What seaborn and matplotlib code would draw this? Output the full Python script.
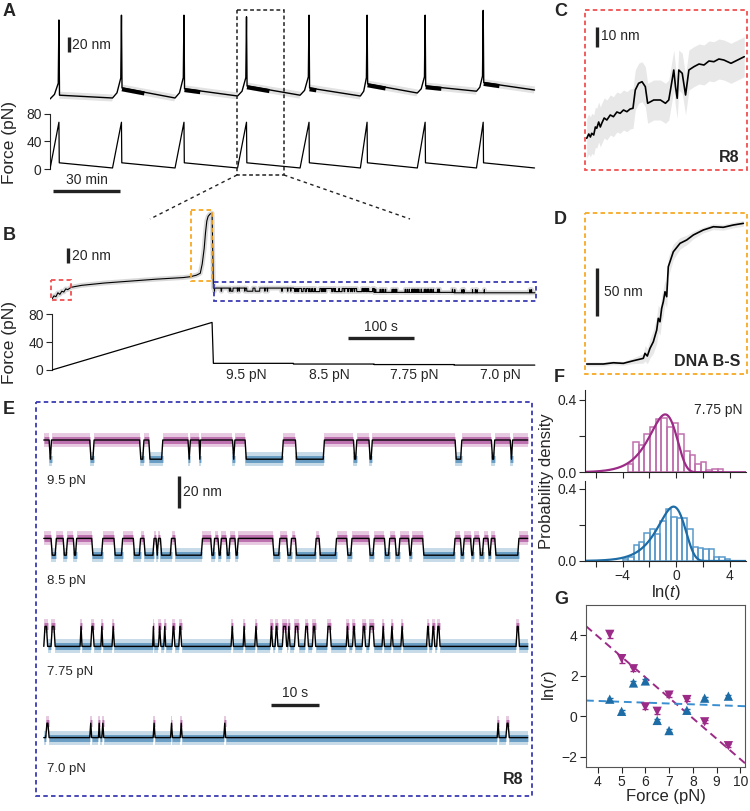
import numpy as np
import pandas as pd
import matplotlib
matplotlib.use('Agg')
import matplotlib.pyplot as plt
import seaborn as sns
from matplotlib.patches import Rectangle
from matplotlib.collections import LineCollection

sns.set_style('ticks')
plt.rcParams['font.family'] = ['Liberation Sans', 'DejaVu Sans']
plt.rcParams['mathtext.fontset'] = 'custom'
plt.rcParams['mathtext.rm'] = 'Liberation Sans'
plt.rcParams['mathtext.it'] = 'Liberation Sans:italic'
plt.rcParams['xtick.labelsize'] = 10
plt.rcParams['ytick.labelsize'] = 10

MAG = '#9c2a87'
BLU = '#1d6ca6'

# ---------------- data ----------------
# A: pulling cycles (time in min, force in pN, extension in nm)
A_ramp_start = [0, 28, 56, 84, 112, 139, 164.5, 191]
A_peak = [4, 32, 60, 88, 116, 142, 168, 194]
A_end = 217
A_force_start = [0, 1.5, 1.5, 1.5, 1.5, 1.5, 1.5, 1.5]
A_force_peak = 68
A_force_after = 9
A_force_end = 1.5
A_ext_start = [1.25, 2.5, 2.5, 5, 6, 5, 8.75, 11]
A_ext_ramp_mid = [7, 9, 9, 11, 12, 11, 14, 16]
A_ext_prespike = [21, 27.5, 28, 28, 29, 28, 29, 30]
A_ext_top = [100, 106, 106, 104, 106, 106, 106, 112]
A_ext_after = [6, 15, 14, 17.5, 15, 20, 17.5, 21.7]
A_ext_final = 12.5
A_hop_len = [0, 10, 7, 10, 3, 8, 7, 7]

# B: one cycle (time in s)
B_pre_t = [0, 3, 6, 9, 12, 15, 18, 21, 24, 29, 45, 80, 120, 160, 200, 211, 220, 226, 229, 232,
           234, 236, 238, 241, 244]
B_pre_nm = [0, 4, 3, 8, 6, 10, 9, 13, 12, 15, 17.5, 20.5, 23, 25.5, 27.5, 28.6, 30.5, 33, 45, 65,
            85, 100, 106, 109, 110]
B_ramp_end = 244
B_force_peak = 68
B_step_t = [246, 368, 491, 613, 736]
B_forces = [9.5, 8.5, 7.75, 7.0]
B_high = [14, 13.5, 12.5, 12]
B_low = [10, 9.5, 8.5, 8]

# C: R8 hopping at the start of the ramp
C_t = [0.13, 0.5, 0.8, 1.04, 1.4, 1.7, 1.95, 2.3, 2.6, 2.86, 3.3, 3.78, 4.4, 4.98, 5.6, 6.2, 6.8,
       7.42, 8.0, 8.52, 8.94, 9.54, 10.16, 10.76, 11.18, 12.28, 13.5, 14.41, 15.01, 15.32, 15.92,
       16.23, 16.54, 16.83, 17.45, 18.06, 18.66, 19.57, 20.5, 21.4, 22.3, 23.2, 24.1, 25.0, 26.3,
       27.5, 28.7]
C_nm = [0.85, 3, 1.5, 3.35, 2.5, 6.5, 5.85, 9, 6.5, 8.35, 11, 10, 12.5, 11.65, 14, 13.35, 15,
        14.15, 15.5, 15.85, 25, 28.35, 29.15, 26.65, 18.35, 20, 20, 18.35, 20, 25, 35,
        26.65, 20.85, 35, 33.35, 22.5, 35, 36.65, 38, 37.5, 39.5, 39.15, 40.5, 40, 38.35,
        40, 41.65]
C_spread = 10

# D: DNA B-S transition
D_t = [0.14, 3.48, 5.49, 7.5, 9.52, 11.53, 11.87, 12.34, 12.88, 13.55, 14.23, 14.55, 14.89, 15.23,
       15.56, 15.9, 16.24, 16.56, 16.9, 17.57, 18.92, 20.27, 21.6, 23.61, 25.62, 27.63, 29.65, 31.66]
D_nm = [2.1, 2.1, 3.4, 2.8, 5.5, 8.0, 13.2, 10.4, 18.4, 25.3, 37.5, 49.7, 46.1, 60.1, 67.0, 77.4,
        72.2, 103.4, 108.6, 119.0, 127.8, 131.3, 136.5, 141.7, 145.1, 144.5, 146.9, 148.6]
D_spread = [2, 2, 2, 2, 3, 5, 8, 8, 10, 12, 14, 14, 14, 14, 14, 12, 12, 10, 10, 8, 6, 5, 4, 3,
            3, 3, 3, 3]

# E: constant-force traces, 100 s each; intervals spent in the other state
E_labels = ['9.5 pN', '8.5 pN', '7.75 pN', '7.0 pN']
E_base_high = [True, True, False, False]
E_low = [210.5, 150.5, 93.5, 36.5]
E_step = [12, 10.5, 12.5, 9]
E_95 = [(1.1, 1.6), (9.5, 10.4), (19.8, 20.7), (21.7, 24.6), (29.8, 30.3), (32.1, 32.4),
        (39.0, 39.5), (41.6, 49.5), (52.0, 58.0), (64.0, 64.7), (67.2, 67.9), (85.0, 86.4),
        (92.5, 93.2), (96.4, 96.9)]
E_85 = [(1.5, 2.6), (4.0, 4.9), (6.1, 6.8), (9.9, 12.2), (14.5, 16.3), (18.5, 20.0), (20.7, 22.8),
        (23.2, 23.7), (24.1, 26.4), (27.1, 32.8), (34.5, 35.3), (36.0, 36.7), (37.7, 38.5),
        (39.5, 40.2), (47.3, 48.8), (50.2, 51.2), (52.0, 56.3), (56.9, 60.5), (62.6, 63.7),
        (67.2, 68.3), (70.4, 71.5), (72.6, 73.6), (75.4, 76.1), (78.3, 85.0), (86.1, 86.9),
        (88.2, 88.9), (90.0, 90.9), (91.8, 92.5), (93.2, 98.2)]
E_775 = [(0.0, 0.8), (1.5, 2.35), (7.5, 7.9), (9.7, 10.4), (11.8, 12.2), (14.1, 14.6), (22.5, 22.8),
         (23.7, 24.2), (24.8, 25.2), (26.5, 27.1), (27.9, 28.5), (38.7, 39.2), (41.2, 41.6),
         (43.6, 44.1), (46.8, 47.3), (47.8, 48.4), (49.3, 50.2), (50.4, 50.9), (51.8, 52.7),
         (53.9, 54.7), (55.5, 56.2), (58.5, 59.4), (62.5, 63.0), (63.8, 64.4), (65.8, 66.5),
         (67.2, 68.3), (69.9, 70.4), (71.7, 72.2), (73.8, 74.3), (79.1, 79.7), (80.2, 80.8),
         (81.2, 81.9), (97.6, 98.3)]
E_70 = [(0.4, 1.1), (9.5, 9.9), (11.3, 11.6), (12.0, 12.4), (22.6, 23.0), (26.2, 26.6),
        (28.2, 28.6), (37.2, 37.6), (93.7, 94.1), (95.5, 96.2)]
E_events = [E_95, E_85, E_775, E_70]

# F: dwell-time histograms at 7.75 pN
F_top_start, F_top_width = -3.63, 0.42
F_top = [0.047, 0.168, 0.153, 0.213, 0.25, 0.293, 0.30, 0.25, 0.27, 0.21, 0.116, 0.097, 0.047,
         0.056, 0.013, 0.017, 0.017]
F_bot_start, F_bot_width = -3.98, 0.40
F_bot = [0.009, 0.02, 0.087, 0.107, 0.157, 0.18, 0.148, 0.222, 0.29, 0.246, 0.237, 0.24, 0.176,
         0.078, 0.074, 0.068, 0.068, 0.022, 0.022, 0.009]
F_top_fit = (0.87, -0.82)   # amplitude, ln(tau)
F_bot_fit = (0.82, -0.20)

# G: rates vs force
G_force = [4.5, 5, 5.5, 6, 6.5, 7, 7.75, 8.5, 9.5]
G_unfold = [4.05, 2.85, 2.35, 0.47, 0.25, 1.05, 0.83, -0.27, -1.45]
G_unfold_err = [0.18, 0.2, 0.1, 0.12, 0.12, 0.1, 0.08, 0.08, 0.08]
G_fold = [0.85, 0.25, 1.65, 1.75, -0.2, -0.7, 0.3, 0.9, 1.0]
G_fold_err = [0.08] * 9
G_unfold_fit = (-1.01, 7.99)
G_fold_fit = (-0.042, 0.93)

# ---------------- helpers ----------------
W, H = 750, 811
fig = plt.figure(figsize=(7.5, 8.11), dpi=100)


def add_ax(x0, y0, x1, y1):
    return fig.add_axes([x0 / W, 1 - y1 / H, (x1 - x0) / W, (y1 - y0) / H])


def trace(ax, x, y, color='black', lw=1.0, zorder=3, alpha=1.0):
    sns.lineplot(x=np.asarray(x, float), y=np.asarray(y, float), ax=ax, color=color, lw=lw,
                 sort=False, estimator=None, zorder=zorder, alpha=alpha, legend=False)


def state_segments(events, total=100.0):
    segs, t = [], 0.0
    for a, b in events:
        if a > t:
            segs.append((t, a, 0))
        segs.append((a, b, 1))
        t = b
    if t < total:
        segs.append((t, total, 0))
    return segs


def state_path(events, base, other, total=100.0, w=0.25):
    xs, ys = [0.0], [base]
    for a, b in events:
        if b - a > 2 * w:
            xs += [a, a + w, b - w, b]
            ys += [base, other, other, base]
        else:
            xs += [a, (a + b) / 2, b]
            ys += [base, other, base]
    xs.append(total)
    ys.append(base)
    return np.array(xs), np.array(ys)


def force_axis(ax):
    for s in ['top', 'right', 'bottom']:
        ax.spines[s].set_visible(False)
    ax.spines['left'].set_bounds(0, 80)
    ax.set_yticks([0, 40, 80])
    ax.set_xticks([])
    ax.tick_params(axis='y', length=4, width=0.8, pad=2)
    ax.patch.set_alpha(0)


# ---------------- A ----------------
axA = add_ax(50, 8, 560, 112)
axAf = add_ax(50, 108, 560, 172)
A_t, A_x, A_ft, A_f = [], [], [], []
n = len(A_peak)
for i in range(n):
    rs, pk = A_ramp_start[i], A_peak[i]
    nxt = A_ramp_start[i + 1] if i + 1 < n else A_end
    nxt_lvl = A_ext_start[i + 1] if i + 1 < n else A_ext_final
    A_t += [rs, (rs + pk) / 2, pk - 0.3, pk, pk + 0.25, nxt]
    A_x += [A_ext_start[i], A_ext_ramp_mid[i], A_ext_prespike[i], A_ext_top[i], A_ext_after[i], nxt_lvl]
    A_ft += [rs, pk, pk + 0.15, nxt]
    A_f += [A_force_start[i], A_force_peak, A_force_after, A_force_end]
    axA.plot([pk + 0.25, nxt], [A_ext_after[i], nxt_lvl], color='#e2e2e2', lw=5, zorder=1,
             solid_capstyle='butt')
    if A_hop_len[i] > 0:
        h_end = pk + 0.25 + A_hop_len[i]
        h_lvl = np.interp(h_end, [pk + 0.25, nxt], [A_ext_after[i], nxt_lvl])
        axA.plot([pk + 0.25, h_end], [A_ext_after[i] - 1.5, h_lvl - 1.5], color='black', lw=3,
                 zorder=2, solid_capstyle='butt')
trace(axA, A_t, A_x, lw=1.0)
trace(axAf, A_ft, A_f, lw=0.9)
axA.set_xlim(0, 228.4)
axA.set_ylim(-15, 115)
axA.axis('off')
axAf.set_xlim(0, 228.4)
axAf.set_ylim(-4.36, 88.7)
force_axis(axAf)

# ---------------- B ----------------
axB = add_ax(52, 197, 536, 304)
axBf = add_ax(52, 308, 536, 376)
bx, by = list(B_pre_t), list(B_pre_nm)
for k, ev in enumerate(E_events):
    hi, lo = B_high[k], B_low[k]
    base, other = (hi, lo) if E_base_high[k] else (lo, hi)
    px, py = state_path(ev, base, other, w=0.2)
    scale = (B_step_t[k + 1] - B_step_t[k]) / 100.0
    bx += list(B_step_t[k] + px * scale)
    by += list(py)
trace(axB, bx, by, color='#d9d9d9', lw=3.5, zorder=1)
trace(axB, bx, by, lw=0.8)
bf_t, bf_f = [0, B_ramp_end], [0, B_force_peak]
for k, f in enumerate(B_forces):
    bf_t += [B_step_t[k], B_step_t[k + 1]]
    bf_f += [f, f]
trace(axBf, bf_t, bf_f, lw=0.9)
axB.set_xlim(0, 737.8)
axB.set_ylim(-6.4, 130.8)
axB.axis('off')
axBf.set_xlim(0, 737.8)
axBf.set_ylim(-8.6, 88.6)
force_axis(axBf)

# ---------------- C ----------------
axC = add_ax(585, 10, 747, 170)
axC.fill_between(C_t, np.array(C_nm) - C_spread, np.array(C_nm) + C_spread, color='#e8e8e8', lw=0)
trace(axC, C_t, C_nm, lw=1.2)
axC.set_xlim(-0.18, 29.2)
axC.set_ylim(-15, 65)
axC.axis('off')

# ---------------- D ----------------
axD = add_ax(585, 213, 747, 374)
axD.fill_between(D_t, np.array(D_nm) - np.array(D_spread), np.array(D_nm) + np.array(D_spread),
                 color='#e8e8e8', lw=0)
trace(axD, D_t, D_nm, lw=1.2)
axD.set_xlim(-0.2, 32.4)
axD.set_ylim(-8.3, 159.4)
axD.axis('off')

# ---------------- E ----------------
axE = add_ax(36, 402, 532, 796)
for k, ev in enumerate(E_events):
    lo = E_low[k]
    hi = lo + E_step[k]
    if E_base_high[k]:
        base, other, c0, c1 = hi, lo, MAG, BLU
    else:
        base, other, c0, c1 = lo, hi, BLU, MAG
    segs = state_segments(ev)
    lines = [[(a, base if s == 0 else other), (b, base if s == 0 else other)] for a, b, s in segs]
    cols = [c0 if s == 0 else c1 for a, b, s in segs]
    for lw, al in [(10, 0.25), (5, 0.55)]:
        axE.add_collection(LineCollection(lines, colors=cols, linewidths=lw, alpha=al,
                                          capstyle='butt', zorder=1))
    px, py = state_path(ev, base, other)
    trace(axE, px, py, lw=1.0)
axE.set_xlim(-1.61, 100.9)
axE.set_ylim(0, 246.25)
axE.axis('off')

# ---------------- F ----------------
axF1 = add_ax(585, 390, 746, 472.3)
axF2 = add_ax(585, 481, 746, 561)
xs = np.linspace(-6.8, 5.2, 400)
for ax, h, st, wd, fit, col, ecol in [(axF1, F_top, F_top_start, F_top_width, F_top_fit, MAG, '#c070ae'),
                                      (axF2, F_bot, F_bot_start, F_bot_width, F_bot_fit, BLU, '#5a9acb')]:
    centers = st + wd * (np.arange(len(h)) + 0.5)
    hist_df = pd.DataFrame({'x': centers, 'w': h})
    sns.histplot(data=hist_df, x='x', weights='w', binwidth=wd,
                 binrange=(st, st + wd * len(h)), ax=ax, fill=False, element='bars',
                 color=ecol, linewidth=1.1)
    amp, lnt = fit
    k = np.exp(-lnt)
    ys = amp * k * np.exp(xs) * np.exp(-k * np.exp(xs))
    sns.lineplot(x=xs, y=ys, ax=ax, color=col, lw=1.6, legend=False)
    ax.set_xlim(-6.8, 5.2)
    ax.set_xticks([-6, -4, -2, 0, 2, 4])
    ax.set_yticks([0, 0.2, 0.4])
    ax.set_yticklabels(['0.0', '', '0.4'])
    ax.set_ylabel('')
    ax.spines['top'].set_visible(False)
    ax.spines['right'].set_visible(False)
    ax.tick_params(length=4, width=0.8, pad=2)
    ax.patch.set_alpha(0)
axF1.set_ylim(0, 0.455)
axF2.set_ylim(0, 0.444)
axF1.set_xticklabels([''] * 6)
axF2.set_xticklabels(['', '\u22124', '', '0', '', '4'])
axF2.set_xlabel(r'ln($\mathit{t}$)', fontsize=12, labelpad=0)
axF1.set_xlabel('')

# ---------------- G ----------------
axG = add_ax(586, 605, 745, 767)
gx = np.array([3.5, 10.2])
for (m, b), col in [(G_unfold_fit, MAG), (G_fold_fit, '#3a8fd0')]:
    axG.plot(gx, m * gx + b, ls=(0, (4, 2.5)), color=col, lw=1.4, zorder=1)
axG.errorbar(G_force, G_unfold, yerr=G_unfold_err, fmt='none', ecolor=MAG, capsize=2, lw=0.9)
axG.errorbar(G_force, G_fold, yerr=G_fold_err, fmt='none', ecolor=BLU, capsize=2, lw=0.9)
sns.scatterplot(x=G_force, y=G_unfold, ax=axG, marker='v', color=MAG, s=45, edgecolor='none', zorder=3)
sns.scatterplot(x=G_force, y=G_fold, ax=axG, marker='^', color=BLU, s=45, edgecolor='none', zorder=3)
axG.set_xlim(3.5, 10.2)
axG.set_ylim(-2.5, 5.5)
axG.set_xticks([4, 5, 6, 7, 8, 9, 10])
axG.set_yticks([-2, 0, 2, 4])
axG.set_xlabel('Force (pN)', fontsize=12, labelpad=0)
axG.set_ylabel(r'ln($\mathit{r}$)', fontsize=12, labelpad=2)
axG.tick_params(length=4, width=0.8, pad=2)
for s in axG.spines.values():
    s.set_linewidth(0.8)
    s.set_color('#555555')

# ---------------- overlay: boxes, scale bars, labels ----------------
ov = fig.add_axes([0, 0, 1, 1], zorder=10)
ov.set_xlim(0, W)
ov.set_ylim(H, 0)
ov.axis('off')
ov.patch.set_alpha(0)


def box(x0, y0, x1, y1, color, lw=1.3):
    ov.add_patch(Rectangle((x0, y0), x1 - x0, y1 - y0, fill=False, ec=color, lw=lw,
                           ls=(0, (2.5, 1.8))))


def txt(x, y, s, size=10, ha='left', **kw):
    ov.text(x, y, s, fontsize=size, ha=ha, va='center', **kw)


def vbar(x, y0, y1):
    ov.plot([x, x], [y0, y1], color='#222222', lw=2.4, solid_capstyle='butt')


def hbar(y, x0, x1):
    ov.plot([x0, x1], [y, y], color='#222222', lw=2.4, solid_capstyle='butt')


for s, (x, y) in zip('ABCDEFG', [(3, 11), (3, 236), (554, 12), (554, 219), (3, 409), (554, 377),
                                 (554, 600)]):
    txt(x, y, s, size=13, fontweight='bold')

txt(10, 142, 'Force (pN)', size=12.5, ha='center', rotation=90)
txt(10, 343, 'Force (pN)', size=12.5, ha='center', rotation=90)

# A
vbar(69, 37, 52)
txt(72, 45, '20 nm')
hbar(191, 53, 120)
txt(87, 180, '30 min', ha='center')
ov.add_patch(Rectangle((237, 10), 47, 165, fill=False, ec='#222222', lw=1.1, ls=(0, (2.5, 1.8))))
ov.plot([237, 150], [175, 219], color='#222222', lw=1.0, ls=(0, (2.5, 2.5)))
ov.plot([284, 410], [175, 219], color='#222222', lw=1.0, ls=(0, (2.5, 2.5)))

# B
vbar(68.3, 247.7, 263.3)
txt(72, 256, '20 nm')
hbar(338, 348, 414)
txt(381, 327, '100 s', ha='center')
for lab, x in zip(B_forces, [246, 329, 414, 500]):
    txt(x, 375, f'{lab} pN', ha='center')
box(51, 280, 71, 300, '#f05050')
box(190.7, 210, 211.7, 281, '#f7a823')
box(214, 282.3, 535.7, 301.5, '#3c3cb4')

# C, D
box(585, 10, 747, 170, '#f05050')
vbar(597, 27, 47)
txt(601, 36, '10 nm')
txt(739, 158, 'R8', size=11.5, ha='right', fontweight='bold')
box(585, 213, 747, 374, '#f7a823')
vbar(597.3, 268, 316)
txt(604, 292, '50 nm')
txt(740, 362, 'DNA B-S', size=11.5, ha='right', fontweight='bold')

# E
box(36.2, 402, 532, 795.6, '#3c3cb4')
for lab, y in zip(E_labels, [481, 581, 672, 769]):
    txt(47, y, lab, size=9.5)
vbar(178.8, 476, 508)
txt(183, 492, '20 nm')
hbar(705, 271, 319.3)
txt(295, 693, '10 s', ha='center')
txt(523, 779, 'R8', size=11.5, ha='right', fontweight='bold')

# F, G labels
txt(743, 410, '7.75 pN', ha='right')
txt(547, 481, 'Probability density', size=12, ha='center', rotation=90)

fig.savefig('out.png', dpi=100)
